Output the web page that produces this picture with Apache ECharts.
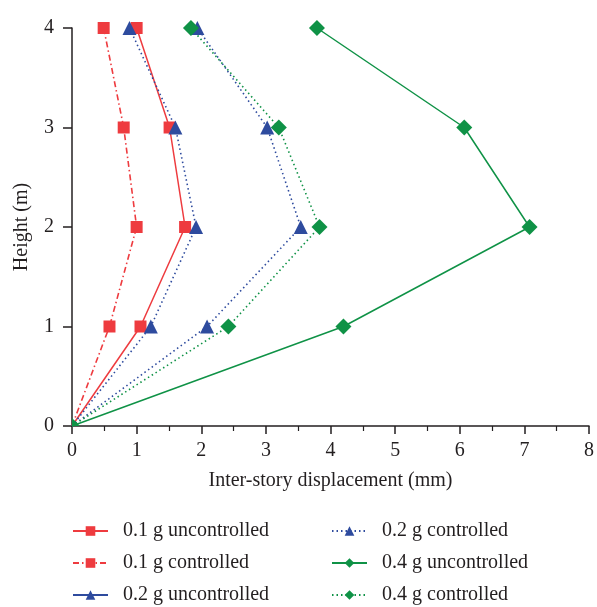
<!DOCTYPE html>
<html>
<head>
<meta charset="utf-8">
<script src="https://cdn.jsdelivr.net/npm/echarts@6/dist/echarts.min.js"></script>
<style>html,body{margin:0;padding:0;background:#fff}#c{width:597px;height:607px}</style>
</head>
<body>
<div id="c"></div>
<script>
const heights = [0, 1, 2, 3, 4];
const xTicks = [0, 1, 2, 3, 4, 5, 6, 7, 8];
const g01Unc = [0, 1.06, 1.75, 1.51, 1.0];
const g01Con = [0, 0.58, 1.0, 0.80, 0.49];
const g02Unc = [0, 1.22, 1.92, 1.60, 0.89];
const g02Con = [0, 2.09, 3.54, 3.02, 1.94];
const g04Unc = [0, 4.20, 7.08, 6.07, 3.79];
const g04Con = [0, 2.42, 3.83, 3.20, 1.84];
const names = ['0.1 g uncontrolled','0.1 g controlled','0.2 g uncontrolled','0.2 g controlled','0.4 g uncontrolled','0.4 g controlled'];

const RED = '#ee3b3f', BLUE = '#2e4b9e', GREEN = '#0f9246';
const FONT = 'Liberation Serif';
const TXT = '#231f20';
const FS = 20;

function pts(xs, originSym) {
  return xs.map((x, i) => {
    if (i === 0) {
      if (originSym) return {value: [x, heights[i]], symbol: 'path://M0 0L0 10L10 10Z', symbolSize: 8, symbolOffset: [4, -4]};
      return {value: [x, heights[i]], symbol: 'none'};
    }
    return [x, heights[i]];
  });
}
function ser(name, xs, color, sym, size, type, originSym) {
  return {
    name, type: 'line', data: pts(xs, originSym), symbol: sym, symbolSize: size,
    itemStyle: {color}, lineStyle: {color, width: type === 'solid' ? 1.5 : 1.6, type},
    clip: false, animation: false
  };
}
const series = [
  ser(names[0], g01Unc, RED, 'rect', 12, 'solid'),
  ser(names[1], g01Con, RED, 'rect', 12, [6, 3, 1.5, 3]),
  ser(names[2], g02Unc, BLUE, 'triangle', 14, [1.5, 3]),
  ser(names[3], g02Con, BLUE, 'triangle', 14, [1.5, 3]),
  ser(names[4], g04Unc, GREEN, 'diamond', 16, 'solid', true),
  ser(names[5], g04Con, GREEN, 'diamond', 16, [1.5, 3])
];

const legendBase = {
  orient: 'vertical', itemWidth: 35, itemHeight: 12, itemGap: 12, padding: 0,
  height: 100,
  textStyle: {fontFamily: FONT, fontSize: FS, color: TXT, padding: [0, 0, 0, 10]},
  selectedMode: false
};

const chart = echarts.init(document.getElementById('c'), null, {renderer: 'canvas'});
chart.setOption({
  backgroundColor: '#fff',
  animation: false,
  grid: {left: 72, right: 5, top: 28, bottom: 181, containLabel: false},
  xAxis: {
    type: 'value', min: 0, max: 8, interval: 1,
    name: 'Inter-story displacement (mm)', nameLocation: 'middle', nameGap: 45,
    nameTextStyle: {fontFamily: FONT, fontSize: FS, color: TXT},
    axisLine: {lineStyle: {color: '#231f20', width: 1.5}},
    axisTick: {show: true, inside: false, length: 8, lineStyle: {color: '#231f20', width: 1.5}},
    minorTick: {show: true, splitNumber: 2, length: 5, lineStyle: {color: '#231f20', width: 1.2}},
    axisLabel: {fontFamily: FONT, fontSize: FS, color: TXT, margin: 15, formatter: v => String(v)},
    splitLine: {show: false}
  },
  yAxis: {
    type: 'value', min: 0, max: 4, interval: 1,
    name: 'Height (m)', nameLocation: 'middle', nameGap: 40, nameRotate: 90,
    nameTextStyle: {fontFamily: FONT, fontSize: FS, color: TXT},
    axisLine: {show: true, lineStyle: {color: '#231f20', width: 1.5}},
    axisTick: {show: true, inside: false, length: 9, lineStyle: {color: '#231f20', width: 1.5}},
    axisLabel: {fontFamily: FONT, fontSize: FS, color: TXT, margin: 18},
    splitLine: {show: false}
  },
  legend: [
    Object.assign({}, legendBase, {left: 72, top: 521, data: [
      {name: names[0]}, {name: names[1]}, {name: names[2], lineStyle: {type: 'solid'}}
    ]}),
    Object.assign({}, legendBase, {left: 331, top: 521, data: [
      {name: names[3]}, {name: names[4]}, {name: names[5]}
    ]})
  ],
  series
});
</script>
</body>
</html>
